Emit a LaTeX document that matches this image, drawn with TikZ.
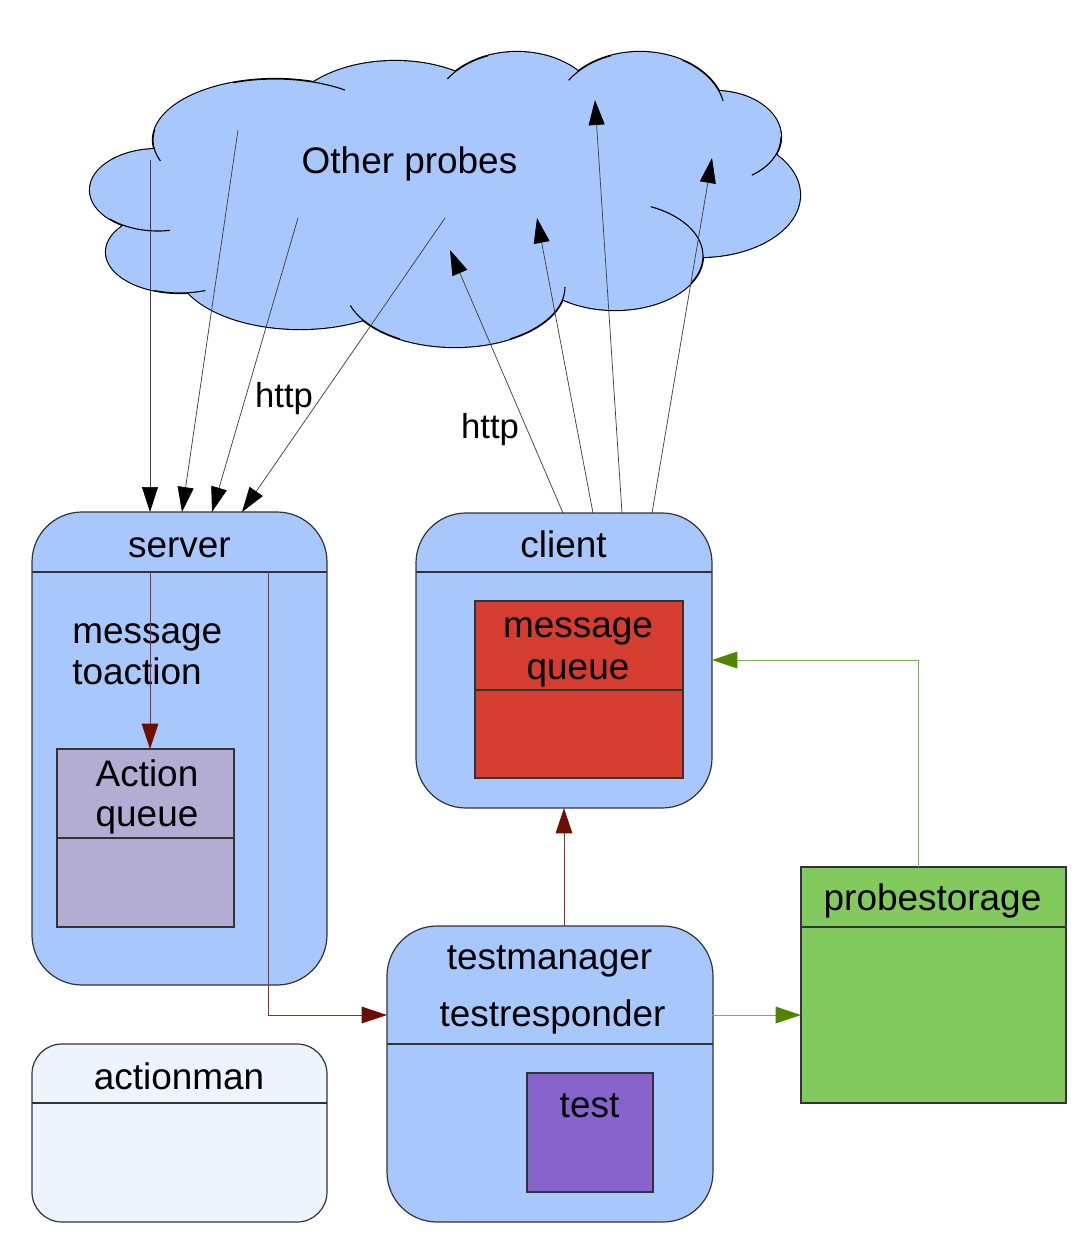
\documentclass[tikz,border=0pt]{standalone}
\usepackage{fontspec}
\setmainfont{Liberation Sans}
\usetikzlibrary{arrows.meta,calc}
\definecolor{boxblue}{HTML}{A8C8FD}
\definecolor{aqcolor}{HTML}{B3ADD4}
\definecolor{mqred}{HTML}{D43D30}
\definecolor{testpurple}{HTML}{8963CC}
\definecolor{psgreen}{HTML}{82C95E}
\definecolor{amlight}{HTML}{EEF4FE}
\definecolor{darkred}{HTML}{6B0F00}
\definecolor{redline}{HTML}{8E3028}
\definecolor{darkgreen}{HTML}{4F8500}
\definecolor{greenline}{HTML}{7DB055}
\definecolor{outline}{HTML}{333333}
\begin{document}
\begin{tikzpicture}[x=0.75pt,y=-0.75pt,
  lbl/.style={font=\fontsize{27.7}{33}\selectfont, inner sep=0pt, anchor=base},
  lblw/.style={lbl, anchor=base west},
  httplbl/.style={font=\fontsize{26}{31}\selectfont, inner sep=0pt, anchor=base},
  rbox/.style={draw=outline, line width=0.9pt, rounded corners=37.5pt, fill=boxblue, inner sep=0pt, outer sep=0pt, anchor=north west},
  sbox/.style={draw=outline, line width=0.8pt, inner sep=0pt, outer sep=0pt, anchor=north west},
  hline/.style={draw=outline, line width=0.9pt},
  blink/.style={draw=black!75, line width=0.55pt, -{Triangle[length=18.75pt,width=12pt,color=black]}},
  rlink/.style={draw=redline, line width=0.6pt, -{Triangle[length=19pt,width=12.5pt,color=darkred]}},
  glink/.style={draw=greenline, line width=0.7pt, -{Triangle[length=19pt,width=12.5pt,color=darkgreen]}},
  bump/.style={draw=black, line width=1.7pt},
  tick/.style={draw=black, line width=0.85pt}
]
\useasboundingbox (0,0) rectangle (1082,1240);

% ---------- cloud ----------
\def\cloudellipses{%
  (158,190) ellipse [x radius=68, y radius=41]
  (180,252) ellipse [x radius=74, y radius=41]
  (275,140) ellipse [x radius=122, y radius=61]
  (395,130) ellipse [x radius=113, y radius=69]
  (517,115) ellipse [x radius=85, y radius=63]
  (640,114) ellipse [x radius=85, y radius=62]
  (715,137) ellipse [x radius=66, y radius=46]
  (700,195) ellipse [x radius=100, y radius=62]
  (615,256) ellipse [x radius=88, y radius=54]
  (455,287) ellipse [x radius=110, y radius=60]
  (300,265) ellipse [x radius=124, y radius=64]}
\path[bump] \cloudellipses;
\path[fill=boxblue] \cloudellipses (450,200) ellipse [x radius=250, y radius=90];
% inner ends of the cloud arcs
\draw[tick] (275,140) ++(190:122 and 61) arc[start angle=190, end angle=160, x radius=122, y radius=61];
\draw[tick] (275,140) ++(250:122 and 61) arc[start angle=250, end angle=305, x radius=122, y radius=61];
\draw[tick] (158,190) ++(135:68 and 41) arc[start angle=135, end angle=80, x radius=68, y radius=41];
\draw[tick] (180,252) ++(110:74 and 41) arc[start angle=110, end angle=70, x radius=74, y radius=41];
\draw[tick] (455,287) ++(120:110 and 60) arc[start angle=120, end angle=162, x radius=110, y radius=60];
\draw[tick] (455,287) ++(60:110 and 60) arc[start angle=60, end angle=0, x radius=110, y radius=60];
\draw[tick] (615,256) ++(30:88 and 54) arc[start angle=30, end angle=-66, x radius=88, y radius=54];
\draw[tick] (715,137) ++(0:66 and 46) arc[start angle=0, end angle=56, x radius=66, y radius=46];
\draw[tick] (640,114) ++(-60:85 and 62) arc[start angle=-60, end angle=-12, x radius=85, y radius=62];
\draw[tick] (640,114) ++(-110:85 and 62) arc[start angle=-110, end angle=-147, x radius=85, y radius=62];
\draw[tick] (517,115) ++(-110:85 and 63) arc[start angle=-110, end angle=-145, x radius=85, y radius=63];
\node[lbl] (cloudt) at (409.5,173) {Other probes};

% ---------- boxes ----------
\node[rbox, minimum width=221.25pt, minimum height=354.75pt] (server) at (32,512) {};
\draw[hline] (server.west |- 0,572) -- (server.east |- 0,572);
\node[lbl] (servert) at (179.5,557) {server};
\node[lblw] (mta1) at (72,643) {message};
\node[lblw] (mta2) at (72,684) {toaction};
\node[sbox, fill=aqcolor, minimum width=132.75pt, minimum height=133.5pt] (aq) at (57,749) {};
\draw[hline, line width=0.8pt] (aq.west |- 0,838) -- (aq.east |- 0,838);
\node[lbl] (aqt1) at (147,786) {Action};
\node[lbl] (aqt2) at (147,826) {queue};

\node[rbox, minimum width=222pt, minimum height=221.25pt] (client) at (416,513) {};
\draw[hline] (client.west |- 0,572) -- (client.east |- 0,572);
\node[lbl] (clientt) at (563.5,557) {client};
\node[sbox, fill=mqred, minimum width=156pt, minimum height=132.75pt] (mq) at (475,601) {};
\draw[hline, line width=0.8pt] (mq.west |- 0,690) -- (mq.east |- 0,690);
\node[lbl] (mqt1) at (578,637) {message};
\node[lbl] (mqt2) at (578,679) {queue};

\node[rbox, minimum width=244.5pt, minimum height=222pt] (tm) at (387,926) {};
\draw[hline] (tm.west |- 0,1044) -- (tm.east |- 0,1044);
\node[lbl] (tmt1) at (549.5,969) {testmanager};
\node[lbl] (tmt2) at (552.5,1026) {testresponder};
\node[sbox, fill=testpurple, minimum width=94.5pt, minimum height=89.25pt] (test) at (527,1073) {};
\node[lbl] (testt) at (589.5,1117) {test};

\node[sbox, fill=psgreen, minimum width=198.75pt, minimum height=177pt] (ps) at (801,867) {};
\draw[hline, line width=0.8pt] (ps.west |- 0,927) -- (ps.east |- 0,927);
\node[lbl] (pst) at (932.5,910) {probestorage};

\node[rbox, rounded corners=22.5pt, fill=amlight, minimum width=221.25pt, minimum height=133.5pt] (am) at (32,1044) {};
\draw[hline] (am.west |- 0,1103) -- (am.east |- 0,1103);
\node[lbl] (amt) at (179,1089) {actionman};

% ---------- cloud connectors ----------
\coordinate (ci1) at (150,160);
\coordinate (ci2) at (238,130);
\coordinate (ci3) at (298,218);
\coordinate (ci4) at (445,218);
\coordinate (co1) at (450,250);
\coordinate (co2) at (537,218);
\coordinate (co3) at (595,100);
\coordinate (co4) at (712,158);
\coordinate (sv1) at (150,512);
\coordinate (sv2) at (182,512);
\coordinate (sv3) at (212,512);
\coordinate (sv4) at (242,512);
\coordinate (cl1) at (563,513);
\coordinate (cl2) at (593,513);
\coordinate (cl3) at (622,513);
\coordinate (cl4) at (652,513);
\draw[blink] (ci1) -- (sv1);
\draw[blink] (ci2) -- (sv2);
\draw[blink] (ci3) -- (sv3);
\draw[blink] (ci4) -- (sv4);
\draw[blink] (cl1) -- (co1);
\draw[blink] (cl2) -- (co2);
\draw[blink] (cl3) -- (co3);
\draw[blink] (cl4) -- (co4);
\node[httplbl] (http1) at (284,407) {http};
\node[httplbl] (http2) at (490,438) {http};

% ---------- internal connectors ----------
\coordinate (sr1) at (150,572);
\coordinate (sr2) at (268,572);
\coordinate (tmin) at (387,1015);
\coordinate (tmout) at (712,1015);
\coordinate (psin) at (801,1015);
\coordinate (psout) at (918,867);
\coordinate (clin) at (712,660);
\coordinate (tmup) at (564,926);
\coordinate (cldown) at (564,808);
\draw[rlink] (sr1) -- (sr1 |- aq.north);
\draw[rlink] (sr2) |- (tmin);
\draw[rlink] (tmup) -- (cldown);
\draw[glink] (tmout) -- (psin);
\draw[glink] (psout) |- (clin);
\end{tikzpicture}
\end{document}
